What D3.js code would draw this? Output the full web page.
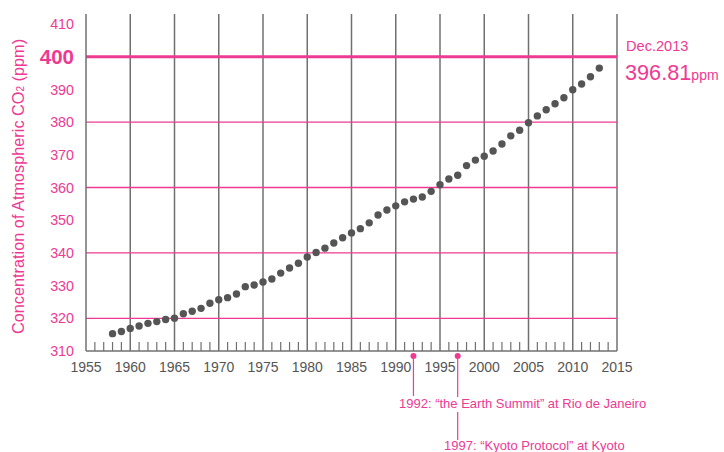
<!DOCTYPE html>
<html><head><meta charset="utf-8">
<script src="https://cdn.jsdelivr.net/npm/d3@7"></script>
<style>body{margin:0;background:#fff}svg{display:block;font-family:"Liberation Sans",Arial,Helvetica,sans-serif}</style>
</head><body><svg id="c" width="724" height="452"></svg>
<script>
const years = d3.range(1958, 2014);
const co2 = [315.3,315.97,316.91,317.64,318.45,318.99,319.62,320.04,321.38,322.16,323.04,324.62,325.68,326.32,327.45,329.68,330.18,331.11,332.04,333.83,335.40,336.84,338.75,340.11,341.45,343.05,344.65,346.12,347.42,349.19,351.57,353.12,354.39,355.61,356.45,357.10,358.83,360.82,362.61,363.73,366.70,368.38,369.55,371.14,373.28,375.80,377.52,379.80,381.90,383.79,385.60,387.43,389.90,391.65,393.85,396.52];
const xTicks = [1955,1960,1965,1970,1975,1980,1985,1990,1995,2000,2005,2010,2015];
const yTicks = [310,320,330,340,350,360,370,380,390,400,410];
const pinkGrid = [320,340,360,380];
const events = [{year:1992,label:"1992: \u201cthe Earth Summit\u201d at Rio de Janeiro"},{year:1997,label:"1997: \u201cKyoto Protocol\u201d at Kyoto"}];

(function(){
const pink = "#ee3a92";
const svg = d3.select("#c");
const x = d3.scaleLinear().domain([1955,2015]).range([86,617]);
const y = d3.scaleLinear().domain([310,410]).range([351,24]);
const yTop = 14, yBot = 351;

svg.append("g").selectAll("line").data(xTicks.slice(1)).join("line")
  .attr("x1",d=>x(d)).attr("x2",d=>x(d)).attr("y1",yTop).attr("y2",yBot)
  .attr("stroke","#707070").attr("stroke-width",1.5);
svg.append("g").selectAll("line").data(d3.range(1956,2015).filter(d=>d%5)).join("line")
  .attr("x1",d=>x(d)).attr("x2",d=>x(d)).attr("y1",yBot-9).attr("y2",yBot)
  .attr("stroke","#707070").attr("stroke-width",1.2);
svg.append("g").selectAll("line").data(pinkGrid).join("line")
  .attr("x1",x(1955)).attr("x2",x(2015)).attr("y1",d=>y(d)).attr("y2",d=>y(d))
  .attr("stroke",pink).attr("stroke-width",1.3);
svg.append("line").attr("x1",x(1955)).attr("x2",x(2015)).attr("y1",y(400)).attr("y2",y(400))
  .attr("stroke",pink).attr("stroke-width",3);
svg.append("line").attr("x1",x(1955)).attr("x2",x(1955)).attr("y1",yTop).attr("y2",yBot).attr("stroke","#707070").attr("stroke-width",1.5);
svg.append("line").attr("x1",x(1955)).attr("x2",x(2015)).attr("y1",yBot).attr("y2",yBot).attr("stroke","#707070").attr("stroke-width",1.5);

svg.append("g").selectAll("text").data(yTicks).join("text")
  .attr("x",74).attr("y",d=>y(d)).attr("dy","0.36em").attr("text-anchor","end")
  .attr("fill",pink)
  .attr("font-size",d=>d===400?20.5:14.3).attr("font-weight",d=>d===400?"bold":"normal")
  .text(d=>d);
svg.append("g").selectAll("text").data(xTicks).join("text")
  .attr("x",d=>x(d)).attr("y",372).attr("text-anchor","middle")
  .attr("fill","#555").attr("font-size",14).text(d=>d);

const yt = svg.append("text").attr("transform","translate(23.5,186.5) rotate(-90)")
  .attr("text-anchor","middle").attr("fill",pink).attr("font-size",16.3);
yt.append("tspan").text("Concentration of Atmospheric CO");
yt.append("tspan").attr("font-size",10).text("2");
yt.append("tspan").text(" (ppm)");

svg.append("g").selectAll("circle").data(years).join("circle")
  .attr("cx",d=>x(d)).attr("cy",(d,i)=>y(co2[i])).attr("r",3.7).attr("fill","#555");

svg.append("text").attr("x",626).attr("y",51).attr("fill",pink).attr("font-size",14.6).text("Dec.2013");
const rl = svg.append("text").attr("x",625).attr("y",80).attr("fill",pink);
rl.append("tspan").attr("font-size",21.7).text("396.81");
rl.append("tspan").attr("font-size",14).text("ppm");

const e0 = events[0], e1 = events[1];
svg.append("line").attr("x1",x(e0.year)).attr("x2",x(e0.year)).attr("y1",356).attr("y2",396).attr("stroke",pink).attr("stroke-width",1.2);
svg.append("circle").attr("cx",x(e0.year)).attr("cy",356).attr("r",3).attr("fill",pink);
svg.append("text").attr("x",399).attr("y",408).attr("fill",pink).attr("font-size",13).text(e0.label);
svg.append("line").attr("x1",x(e1.year)).attr("x2",x(e1.year)).attr("y1",356).attr("y2",397).attr("stroke",pink).attr("stroke-width",1.2);
svg.append("line").attr("x1",x(e1.year)).attr("x2",x(e1.year)).attr("y1",412).attr("y2",440).attr("stroke",pink).attr("stroke-width",1.2);
svg.append("circle").attr("cx",x(e1.year)).attr("cy",356).attr("r",3).attr("fill",pink);
svg.append("text").attr("x",444).attr("y",450).attr("fill",pink).attr("font-size",13).text(e1.label);
})();
</script></body></html>
